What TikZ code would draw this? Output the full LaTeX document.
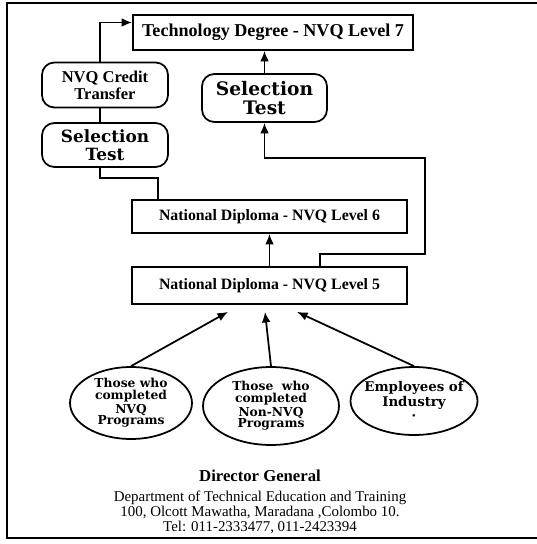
\documentclass[tikz,border=0pt]{standalone}
\usepackage{fontspec}
\setmainfont{Liberation Serif}
\newfontfamily\heavyfont{DejaVu Serif}
\usetikzlibrary{shapes.geometric,arrows.meta,calc}
\tikzset{
  levelbox/.style={draw, line width=1pt, inner sep=0pt, minimum width=5.5cm},
  roundbox/.style={draw, line width=1pt, rounded corners=7pt, inner sep=0pt, align=center,
    minimum width=2.52cm, minimum height=0.9cm},
  ovalbox/.style={draw, ellipse, line width=1pt, inner sep=-0.25cm, align=center,
    font=\heavyfont\bfseries\fontsize{7}{6.6}\selectfont},
  upto/.style={-{Latex[length=6pt,width=5pt]}, line width=1pt},
  plain/.style={line width=1pt},
}

\begin{document}
\begin{tikzpicture}[x=0.02cm, y=-0.02cm]
	\useasboundingbox (0,0) rectangle (537,544);
	\draw[plain] (537,3) -- (7,3) -- (7,538) -- (537,538);
	\node[levelbox, minimum width=5.6cm, minimum height=0.7cm, font=\bfseries\fontsize{10.3}{12}\selectfont] (tech) at (273,32.5) {Technology Degree - NVQ Level 7};
	\node[roundbox, font=\bfseries\fontsize{9.4}{9.6}\selectfont] (credit) at (105,85) {NVQ Credit\\Transfer};
	\node[roundbox, minimum height=0.88cm, font=\heavyfont\bfseries\fontsize{9.6}{10}\selectfont] (selL) at (105,145) {Selection\\Test};
	\node[roundbox, minimum width=2.5cm, minimum height=0.96cm, font=\heavyfont\bfseries\fontsize{10.6}{10.5}\selectfont] (selR) at (264.5,98) {Selection\\Test};
	\node[levelbox, minimum height=0.66cm, font=\bfseries\fontsize{9}{11}\selectfont] (nd6) at (269.5,216.5) {National Diploma - NVQ Level 6};
	\node[levelbox, minimum height=0.74cm, font=\bfseries\fontsize{9}{11}\selectfont] (nd5) at (269.5,285.5) {National Diploma - NVQ Level 5};
	\node[ovalbox, minimum width=2.44cm, minimum height=1.44cm] (ellL) at (131,403) {Those who\\completed\\NVQ\\Programs};
	\node[ovalbox, minimum width=2.72cm, minimum height=1.56cm] (ellM) at (271,406) {Those~ who\\completed\\Non-NVQ\\Programs};
	\node[ovalbox, minimum width=2.54cm, minimum height=1.36cm, font=\heavyfont\bfseries\fontsize{7.6}{7.4}\selectfont] (ellR) at (414,401) {Employees of\\Industry\\[1pt]\textperiodcentered};
	\node[font=\bfseries\fontsize{9.5}{11}\selectfont] (dg) at (260,476) {Director General};
	\node[align=center, font=\fontsize{8.5}{8.6}\selectfont] (dept) at (260,512) {Department of Technical Education and Training\\100, Olcott Mawatha, Maradana ,Colombo 10.\\Tel: 011-2333477, 011-2423394};
	\coordinate (cT) at ($(credit.north)+(-5,0)$);
	\coordinate (cB) at ($(credit.south)+(-5,0)$);
	\coordinate (sT) at ($(selL.north)+(-5,0)$);
	\coordinate (sB) at ($(selL.south)+(-5,0)$);
	\coordinate (jL) at (158,178);
	\coordinate (jR) at (425,158);
	\coordinate (d5) at ($(nd5.north)+(50.5,0)$);
	\draw[upto] (cT) |- ($(tech.west)+(0,-10)$);
	\draw[plain] (cB) -- (sT);
	\draw[plain] (sB) |- (jL) -- (jL |- nd6.north);
	\draw[upto] (d5) -- ++(0,-12) -| (jR) -| (selR.south);
	\draw[upto] (selR.north) -- (selR.north |- tech.south);
	\draw[upto] (nd5.north) -- (nd6.south);
	\draw[upto] (ellL.north) -- ($(nd5.south)+(-41.5,7)$);
	\draw[upto] (ellM.north) -- ($(nd5.south)+(-4.5,7)$);
	\draw[upto] (ellR.north) -- ($(nd5.south)+(27.5,7)$);
\end{tikzpicture}
\end{document}
